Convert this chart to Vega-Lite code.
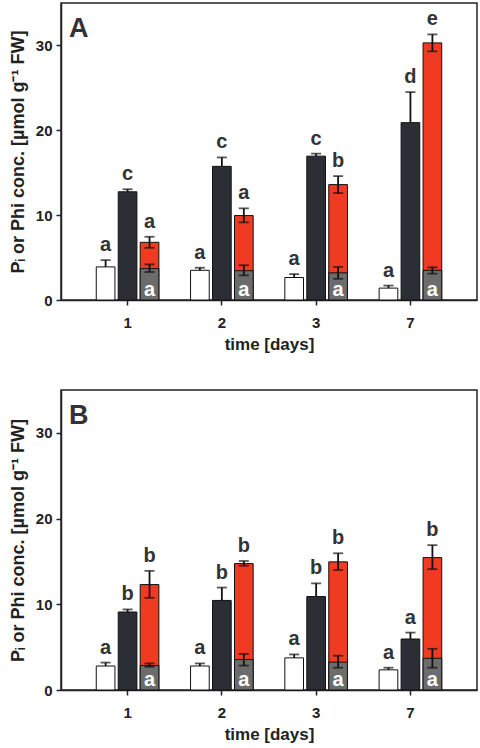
{
  "$schema": "https://vega.github.io/schema/vega-lite/v6.json",
  "padding": {"left": 8, "top": 2, "right": 0, "bottom": 0},
  "spacing": 36,
  "config": {
    "font": "Liberation Sans",
    "view": {"stroke": "#222", "strokeWidth": 1.5},
    "axis": {
      "domainColor": "#222", "domainWidth": 1.5, "tickColor": "#222", "tickWidth": 1.5, "tickSize": 5,
      "labelFont": "Liberation Sans", "labelFontWeight": "bold", "labelFontSize": 15, "labelColor": "#222",
      "titleFont": "Liberation Sans", "titleFontWeight": "bold", "titleFontSize": 17, "titleColor": "#222",
      "grid": false
    },
    "title": {"font": "Liberation Sans"}
  },
  "datasets": {
    "bars": [
      {"panel": "A", "day": "1", "series": "ctrl", "slot": "s1", "value": 3.9, "lo": 3.9, "hi": 4.7, "letter": "a"},
      {"panel": "A", "day": "1", "series": "pi", "slot": "s2", "value": 12.75, "lo": 12.75, "hi": 13.05, "letter": "c"},
      {"panel": "A", "day": "1", "series": "phi", "slot": "s3", "value": 6.8, "lo": 6.15, "hi": 7.45, "letter": "a"},
      {"panel": "A", "day": "1", "series": "grey", "slot": "s3", "value": 3.7, "lo": 3.3, "hi": 4.2, "letter": "a"},
      {"panel": "A", "day": "2", "series": "ctrl", "slot": "s1", "value": 3.5, "lo": 3.5, "hi": 3.8, "letter": "a"},
      {"panel": "A", "day": "2", "series": "pi", "slot": "s2", "value": 15.75, "lo": 15.75, "hi": 16.8, "letter": "c"},
      {"panel": "A", "day": "2", "series": "phi", "slot": "s3", "value": 9.95, "lo": 9.15, "hi": 10.8, "letter": "a"},
      {"panel": "A", "day": "2", "series": "grey", "slot": "s3", "value": 3.45, "lo": 2.9, "hi": 4.1, "letter": "a"},
      {"panel": "A", "day": "3", "series": "ctrl", "slot": "s1", "value": 2.65, "lo": 2.65, "hi": 3.05, "letter": "a"},
      {"panel": "A", "day": "3", "series": "pi", "slot": "s2", "value": 16.95, "lo": 16.95, "hi": 17.25, "letter": "c"},
      {"panel": "A", "day": "3", "series": "phi", "slot": "s3", "value": 13.6, "lo": 12.6, "hi": 14.6, "letter": "b"},
      {"panel": "A", "day": "3", "series": "grey", "slot": "s3", "value": 3.2, "lo": 2.5, "hi": 3.9, "letter": "a"},
      {"panel": "A", "day": "7", "series": "ctrl", "slot": "s1", "value": 1.4, "lo": 1.4, "hi": 1.7, "letter": "a"},
      {"panel": "A", "day": "7", "series": "pi", "slot": "s2", "value": 20.9, "lo": 20.9, "hi": 24.5, "letter": "d"},
      {"panel": "A", "day": "7", "series": "phi", "slot": "s3", "value": 30.3, "lo": 29.3, "hi": 31.3, "letter": "e"},
      {"panel": "A", "day": "7", "series": "grey", "slot": "s3", "value": 3.5, "lo": 3.1, "hi": 3.85, "letter": "a"},
      {"panel": "B", "day": "1", "series": "ctrl", "slot": "s1", "value": 2.8, "lo": 2.8, "hi": 3.2, "letter": "a"},
      {"panel": "B", "day": "1", "series": "pi", "slot": "s2", "value": 9.1, "lo": 9.1, "hi": 9.4, "letter": "b"},
      {"panel": "B", "day": "1", "series": "phi", "slot": "s3", "value": 12.3, "lo": 10.75, "hi": 13.9, "letter": "b"},
      {"panel": "B", "day": "1", "series": "grey", "slot": "s3", "value": 2.85, "lo": 2.7, "hi": 3.1, "letter": "a"},
      {"panel": "B", "day": "2", "series": "ctrl", "slot": "s1", "value": 2.8, "lo": 2.8, "hi": 3.1, "letter": "a"},
      {"panel": "B", "day": "2", "series": "pi", "slot": "s2", "value": 10.45, "lo": 10.45, "hi": 11.95, "letter": "b"},
      {"panel": "B", "day": "2", "series": "phi", "slot": "s3", "value": 14.75, "lo": 14.5, "hi": 15.05, "letter": "b"},
      {"panel": "B", "day": "2", "series": "grey", "slot": "s3", "value": 3.55, "lo": 2.85, "hi": 4.2, "letter": "a"},
      {"panel": "B", "day": "3", "series": "ctrl", "slot": "s1", "value": 3.75, "lo": 3.75, "hi": 4.15, "letter": "a"},
      {"panel": "B", "day": "3", "series": "pi", "slot": "s2", "value": 10.9, "lo": 10.9, "hi": 12.45, "letter": "b"},
      {"panel": "B", "day": "3", "series": "phi", "slot": "s3", "value": 14.95, "lo": 14.0, "hi": 15.95, "letter": "b"},
      {"panel": "B", "day": "3", "series": "grey", "slot": "s3", "value": 3.25, "lo": 2.6, "hi": 4.0, "letter": "a"},
      {"panel": "B", "day": "7", "series": "ctrl", "slot": "s1", "value": 2.35, "lo": 2.35, "hi": 2.6, "letter": "a"},
      {"panel": "B", "day": "7", "series": "pi", "slot": "s2", "value": 5.95, "lo": 5.95, "hi": 6.7, "letter": "a"},
      {"panel": "B", "day": "7", "series": "phi", "slot": "s3", "value": 15.45, "lo": 14.1, "hi": 16.9, "letter": "b"},
      {"panel": "B", "day": "7", "series": "grey", "slot": "s3", "value": 3.7, "lo": 2.6, "hi": 4.8, "letter": "a"}
    ]
  },
  "vconcat": [
    {
      "width": 416, "height": 297,
      "title": {"text": "A", "anchor": "start", "frame": "group", "offset": -40, "dx": 8, "fontSize": 27, "fontWeight": "bold", "color": "#333"},
      "data": {"name": "bars"},
      "transform": [{"filter": "datum.panel === 'A'"}],
      "encoding": {
        "x": {"field": "day", "type": "nominal", "scale": {"paddingInner": 0.336, "paddingOuter": 0.374}, "axis": {"title": "time [days]", "labelAngle": 0, "labelPadding": 10, "titlePadding": 6}},
        "xOffset": {"field": "slot", "type": "nominal", "scale": {"paddingInner": 0.15, "paddingOuter": 0}}
      },
      "layer": [
        {"mark": {"type": "bar", "stroke": "#111", "strokeWidth": 1},
         "encoding": {
           "y": {"field": "value", "type": "quantitative", "stack": null, "scale": {"domain": [0, 35], "nice": false}, "axis": {"values": [0, 10, 20, 30], "title": "Pᵢ or Phi conc. [µmol g⁻¹ FW]", "titleFontSize": 18, "labelPadding": 4, "titlePadding": 8}},
           "color": {"field": "series", "type": "nominal", "scale": {"domain": ["ctrl", "pi", "phi", "grey"], "range": ["#ffffff", "#2c2e35", "#f03a22", "#6c6c6c"]}, "legend": null}
         }},
        {"mark": {"type": "rule", "color": "#111", "strokeWidth": 1.8},
         "encoding": {"y": {"field": "lo", "type": "quantitative"}, "y2": {"field": "hi"}}},
        {"mark": {"type": "tick", "color": "#111", "thickness": 1.8, "size": 10},
         "encoding": {"y": {"field": "hi", "type": "quantitative"}}},
        {"transform": [{"filter": "datum.series === 'phi' || datum.series === 'grey'"}],
         "mark": {"type": "tick", "color": "#111", "thickness": 1.8, "size": 10},
         "encoding": {"y": {"field": "lo", "type": "quantitative"}}},
        {"transform": [{"filter": "datum.series !== 'grey'"}],
         "mark": {"type": "text", "fontSize": 20, "fontWeight": "bold", "color": "#333", "baseline": "alphabetic", "dy": -9},
         "encoding": {"y": {"field": "hi", "type": "quantitative"}, "text": {"field": "letter"}}},
        {"transform": [{"filter": "datum.series === 'grey'"}],
         "mark": {"type": "text", "fontSize": 20, "fontWeight": "bold", "color": "#ffffff", "baseline": "alphabetic", "dy": -4},
         "encoding": {"y": {"datum": 0, "type": "quantitative"}, "text": {"field": "letter"}}}
      ]
    },
    {
      "width": 416, "height": 300,
      "title": {"text": "B", "anchor": "start", "frame": "group", "offset": -40, "dx": 8, "fontSize": 27, "fontWeight": "bold", "color": "#333"},
      "data": {"name": "bars"},
      "transform": [{"filter": "datum.panel === 'B'"}],
      "encoding": {
        "x": {"field": "day", "type": "nominal", "scale": {"paddingInner": 0.336, "paddingOuter": 0.374}, "axis": {"title": "time [days]", "labelAngle": 0, "labelPadding": 10, "titlePadding": 6}},
        "xOffset": {"field": "slot", "type": "nominal", "scale": {"paddingInner": 0.15, "paddingOuter": 0}}
      },
      "layer": [
        {"mark": {"type": "bar", "stroke": "#111", "strokeWidth": 1},
         "encoding": {
           "y": {"field": "value", "type": "quantitative", "stack": null, "scale": {"domain": [0, 35], "nice": false}, "axis": {"values": [0, 10, 20, 30], "title": "Pᵢ or Phi conc. [µmol g⁻¹ FW]", "titleFontSize": 18, "labelPadding": 4, "titlePadding": 8}},
           "color": {"field": "series", "type": "nominal", "scale": {"domain": ["ctrl", "pi", "phi", "grey"], "range": ["#ffffff", "#2c2e35", "#f03a22", "#6c6c6c"]}, "legend": null}
         }},
        {"mark": {"type": "rule", "color": "#111", "strokeWidth": 1.8},
         "encoding": {"y": {"field": "lo", "type": "quantitative"}, "y2": {"field": "hi"}}},
        {"mark": {"type": "tick", "color": "#111", "thickness": 1.8, "size": 10},
         "encoding": {"y": {"field": "hi", "type": "quantitative"}}},
        {"transform": [{"filter": "datum.series === 'phi' || datum.series === 'grey'"}],
         "mark": {"type": "tick", "color": "#111", "thickness": 1.8, "size": 10},
         "encoding": {"y": {"field": "lo", "type": "quantitative"}}},
        {"transform": [{"filter": "datum.series !== 'grey'"}],
         "mark": {"type": "text", "fontSize": 20, "fontWeight": "bold", "color": "#333", "baseline": "alphabetic", "dy": -9},
         "encoding": {"y": {"field": "hi", "type": "quantitative"}, "text": {"field": "letter"}}},
        {"transform": [{"filter": "datum.series === 'grey'"}],
         "mark": {"type": "text", "fontSize": 20, "fontWeight": "bold", "color": "#ffffff", "baseline": "alphabetic", "dy": -4},
         "encoding": {"y": {"datum": 0, "type": "quantitative"}, "text": {"field": "letter"}}}
      ]
    }
  ]
}
